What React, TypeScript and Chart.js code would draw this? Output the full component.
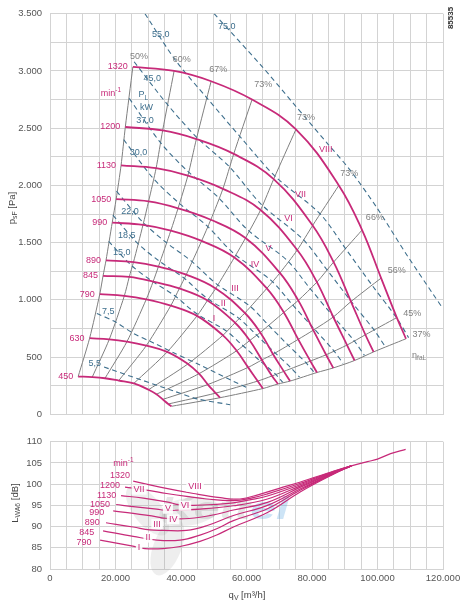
import React, { useEffect, useRef } from 'react';
import { Chart, registerables } from 'chart.js';

Chart.register(...registerables);

const FONT = '"Liberation Sans", Arial, Helvetica, sans-serif';
const MAGENTA = '#c72a79';
const GRAY_LINE = '#7f7f7f';
const DASH_BLUE = '#3e6f8d';
const GRID = '#d3d3d3';
const TICK = '#555555';
const EFF_TEXT = '#808080';

// ---------- Top chart: fan curves, q_V [m³/h] vs p_sF [Pa] ----------
const SPEEDS = [1320, 1200, 1130, 1050, 990, 890, 845, 790, 630, 450];
const Q_1320 = [25300, 37900, 49200, 61700, 75100, 88200, 95300, 101100, 105900, 108700];
const P_1320 = [3035, 3000, 2910, 2750, 2490, 2000, 1610, 1190, 845, 660];
const Q_1200 = [23000, 34400, 44700, 56100, 68300, 80200, 86600, 91900, 96300, 98800];
const P_1200 = [2510, 2480, 2405, 2275, 2055, 1650, 1330, 985, 695, 545];
const Q_1130 = [21700, 32400, 42100, 52800, 64300, 75500, 81500, 86500, 90700, 93000];
const P_1130 = [2175, 2150, 2085, 1970, 1785, 1435, 1155, 850, 605, 470];
const Q_1050 = [20200, 30100, 39100, 49100, 59700, 70200, 75800, 80400, 84300, 86500];
const P_1050 = [1880, 1860, 1800, 1700, 1540, 1235, 995, 735, 520, 405];
const Q_990 = [19000, 28400, 36900, 46300, 56300, 66200, 71400, 75800, 79500, 81500];
const P_990 = [1675, 1655, 1605, 1515, 1370, 1100, 890, 655, 465, 365];
const Q_890 = [17100, 25500, 33100, 41600, 50600, 59500, 64200, 68100, 71400, 73300];
const P_890 = [1345, 1330, 1290, 1220, 1100, 885, 715, 525, 375, 290];
const Q_845 = [16200, 24200, 31500, 39500, 48100, 56500, 61000, 64700, 67800, 69600];
const P_845 = [1210, 1200, 1160, 1100, 995, 800, 645, 475, 335, 265];
const Q_790 = [15200, 22700, 29400, 36900, 44900, 52800, 57000, 60500, 63400, 65000];
const P_790 = [1050, 1035, 1005, 950, 860, 690, 555, 410, 290, 225];
const Q_630 = [12100, 18100, 23500, 29400, 35800, 42100, 45500, 48200, 50600, 51900];
const P_630 = [665, 655, 635, 600, 545, 440, 355, 260, 185, 145];
const Q_450 = [8600, 12900, 16800, 21000, 25600, 30100, 32500, 34400, 36100, 37100];
const P_450 = [330, 325, 315, 295, 270, 215, 175, 130, 90, 70];

const EFFICIENCIES = ['50%', '60%', '67%', '73%', '73%', '73%', '66%', '56%', '45%', '37%'];

// Shaft power lines P_L [kW]: [q, p] pairs
const PL_75 = [[50100, 3500], [64700, 3040], [74500, 2710], [84600, 2370], [91600, 2135], [99800, 1805], [109000, 1390], [117200, 1040], [119700, 935]];
const PL_55 = [[29000, 3500], [38400, 3090], [47900, 2765], [58500, 2410], [68900, 2075], [82500, 1750], [90300, 1445], [98400, 1125], [105900, 840], [109500, 670]];
const PL_45 = [[25700, 3080], [35900, 2705], [44800, 2420], [54700, 2165], [64500, 1835], [77200, 1530], [84500, 1265], [92000, 985], [99000, 735], [102500, 585]];
const PL_37 = [[24200, 2760], [33700, 2375], [42000, 2125], [51200, 1900], [60400, 1610], [72400, 1345], [79100, 1110], [86200, 865], [92800, 645], [96000, 515]];
const PL_30 = [[22500, 2400], [31400, 2065], [39200, 1850], [47800, 1650], [56300, 1400], [67500, 1170], [73800, 965], [80400, 755], [86500, 560], [89500, 445]];
const PL_22 = [[20300, 1950], [28300, 1680], [35300, 1505], [43100, 1340], [50800, 1140], [60800, 950], [66500, 785], [72500, 610], [78000, 455], [80700, 365]];
const PL_18_5 = [[19200, 1740], [26700, 1495], [33300, 1340], [40700, 1195], [47900, 1015], [57400, 845], [62800, 700], [68400, 545], [73600, 405], [76200, 325]];
const PL_15 = [[17900, 1510], [24900, 1300], [31100, 1165], [37900, 1040], [44700, 880], [53500, 735], [58500, 610], [63800, 475], [68700, 355], [71100, 280]];
const PL_7_5 = [[14300, 880], [19800, 810], [25300, 710], [31500, 625], [37600, 540], [45800, 430], [55900, 290], [60500, 228]];
const PL_5_5 = [[16500, 413], [27500, 304], [37600, 205], [44900, 135], [55000, 84]];

const POWER_LABELS: [string, number, number][] = [
  ['75,0', 54000, 3390], ['55,0', 33800, 3320], ['45,0', 31200, 2930], ['37,0', 29000, 2565],
  ['30,0', 27000, 2290], ['22,0', 24400, 1770], ['18,5', 23400, 1565], ['15,0', 21900, 1410],
  ['7,5', 17800, 895], ['5,5', 13700, 440],
];
const EFF_LABELS: [string, number, number][] = [
  ['50%', 27200, 3130], ['60%', 40200, 3100], ['67%', 51400, 3010], ['73%', 65100, 2880],
  ['73%', 78200, 2590], ['73%', 91400, 2100], ['66%', 99200, 1720], ['56%', 105900, 1260],
  ['45%', 110600, 880], ['37%', 113400, 700],
];
const TOP_ROMAN: [string, number, number][] = [
  ['VIII', 84200, 2315], ['VII', 76500, 1920], ['VI', 72800, 1710], ['V', 66700, 1450],
  ['IV', 62600, 1310], ['III', 56500, 1100], ['II', 52900, 965], ['I', 50100, 835],
];

// ---------- Bottom chart: sound power L_WA6 [dB] vs q_V ----------
const LW_VIII = [[25400, 100.7], [33600, 99.3], [43800, 97.8], [52000, 96.8], [58000, 96.5], [64000, 97.6], [70000, 99.0], [76500, 100.5], [86700, 103.1], [92000, 104.3], [96900, 105.3], [100000, 105.9], [104000, 107.2], [108600, 108.2]];
const LW_VII = [[22900, 99.3], [29500, 98.6], [35600, 97.8], [41700, 97.1], [47800, 96.5], [56000, 96.1], [62000, 96.8], [66400, 97.7], [76500, 100.2], [86700, 103.0], [92000, 104.3]];
const LW_VI = [[21700, 97.3], [28500, 96.7], [35600, 95.8], [39700, 95.1], [43800, 95.0], [49900, 95.2], [56000, 95.6], [61000, 96.3], [66400, 97.2], [76500, 99.9], [86700, 102.9], [92000, 104.3]];
const LW_V = [[20200, 95.2], [25400, 94.7], [32600, 94.1], [35600, 93.8], [39700, 93.9], [45800, 94.1], [56000, 94.9], [66400, 96.5], [76500, 99.6], [86700, 102.8], [92000, 104.3]];
const LW_IV = [[19300, 93.7], [25400, 93.1], [32600, 92.3], [34600, 92.0], [39700, 91.8], [45800, 92.2], [50900, 92.9], [56000, 93.9], [66400, 95.7], [76500, 99.3], [86700, 102.7], [92000, 104.3]];
const LW_III = [[17100, 90.9], [25400, 89.9], [30500, 89.2], [34600, 89.1], [41700, 89.1], [47800, 90.2], [56000, 92.6], [66400, 95.0], [76500, 98.9], [86700, 102.6], [92000, 104.3]];
const LW_II = [[16200, 89.0], [25400, 87.7], [32600, 86.8], [39700, 86.8], [45800, 88.0], [50900, 89.5], [56000, 91.4], [66400, 94.2], [76500, 98.6], [86700, 102.5], [92000, 104.3]];
const LW_I = [[15300, 86.8], [25300, 85.4], [29000, 84.8], [34500, 84.8], [39700, 85.3], [45800, 86.5], [50900, 88.0], [56000, 89.9], [66400, 93.3], [76500, 98.2], [86700, 102.4], [92000, 104.3]];

const BOTTOM_RPM: [string, number, number][] = [
  ['1320', 21400, 102.1], ['1200', 18300, 99.7], ['1130', 17300, 97.3], ['1050', 15300, 95.3],
  ['990', 14300, 93.3], ['890', 12900, 90.9], ['845', 11200, 88.6], ['790', 10400, 86.3],
];
const BOTTOM_ROMAN: [string, number, number][] = [
  ['VIII', 44300, 99.4], ['VII', 27200, 98.7], ['VI', 41200, 94.9], ['V', 36000, 94.2],
  ['IV', 37600, 91.7], ['III', 32700, 90.6], ['II', 29900, 87.4], ['I', 27200, 85.0],
];

const fmt = (v: number) => Math.round(v).toString().replace(/\B(?=(\d{3})+(?!\d))/g, '.');

type Part = { t: string; sub?: boolean; sup?: boolean };

function drawRich(ctx: CanvasRenderingContext2D, parts: Part[], x: number, y: number, size: number, color: string, align: 'left' | 'center' | 'right', weight = '') {
  const fontFor = (p: Part) => `${weight} ${p.sub || p.sup ? size * 0.72 : size}px ${FONT}`;
  const widths = parts.map((p) => { ctx.font = fontFor(p); return ctx.measureText(p.t).width; });
  const total = widths.reduce((a, b) => a + b, 0);
  let cx = align === 'left' ? x : align === 'center' ? x - total / 2 : x - total;
  ctx.fillStyle = color;
  ctx.textBaseline = 'middle';
  ctx.textAlign = 'left';
  parts.forEach((p, i) => {
    ctx.font = fontFor(p);
    const dy = p.sub ? size * 0.32 : p.sup ? -size * 0.35 : 0;
    ctx.fillText(p.t, cx, y + dy);
    cx += widths[i];
  });
  return total;
}

const speedCurves = [
  { n: SPEEDS[0], q: Q_1320, p: P_1320 },
  { n: SPEEDS[1], q: Q_1200, p: P_1200 },
  { n: SPEEDS[2], q: Q_1130, p: P_1130 },
  { n: SPEEDS[3], q: Q_1050, p: P_1050 },
  { n: SPEEDS[4], q: Q_990, p: P_990 },
  { n: SPEEDS[5], q: Q_890, p: P_890 },
  { n: SPEEDS[6], q: Q_845, p: P_845 },
  { n: SPEEDS[7], q: Q_790, p: P_790 },
  { n: SPEEDS[8], q: Q_630, p: P_630 },
  { n: SPEEDS[9], q: Q_450, p: P_450 },
];
const powerLines = [PL_75, PL_55, PL_45, PL_37, PL_30, PL_22, PL_18_5, PL_15, PL_7_5, PL_5_5];
const soundCurves = [LW_VIII, LW_VII, LW_VI, LW_V, LW_IV, LW_III, LW_II, LW_I];

const TOP_H = 428;
const BOT_H = 184;

export default function App() {
  const topRef = useRef<HTMLCanvasElement | null>(null);
  const botRef = useRef<HTMLCanvasElement | null>(null);

  useEffect(() => {
    const pairs = (arr: number[][]) => arr.map(([x, y]) => ({ x, y }));

    const topDatasets: any[] = [];
    speedCurves.forEach((c) => {
      topDatasets.push({
        data: c.q.map((x, i) => ({ x, y: c.p[i] })),
        borderColor: MAGENTA, borderWidth: 1.8, pointRadius: 0, showLine: true, tension: 0.4, fill: false,
      });
    });
    powerLines.forEach((pl) => {
      topDatasets.push({
        data: pairs(pl), borderColor: DASH_BLUE, borderWidth: 1.1, borderDash: [5, 3.5],
        pointRadius: 0, showLine: true, tension: 0.3, fill: false,
      });
    });
    EFFICIENCIES.forEach((_, i) => {
      topDatasets.push({
        data: speedCurves.map((c) => ({ x: c.q[i], y: c.p[i] })),
        borderColor: GRAY_LINE, borderWidth: 1, pointRadius: 0, showLine: true, tension: 0.25, fill: false,
      });
    });

    const topPlugin = {
      id: 'topLabels',
      afterDraw(chart: any) {
        const { ctx, scales } = chart;
        const X = (v: number) => scales.x.getPixelForValue(v);
        const Y = (v: number) => scales.y.getPixelForValue(v);
        ctx.save();
        speedCurves.forEach((c) => drawRich(ctx, [{ t: String(c.n) }], X(c.q[0]) - 5, Y(c.p[0]), 9, MAGENTA, 'right'));
        drawRich(ctx, [{ t: 'min' }, { t: '-1', sup: true }], X(18600), Y(2800), 9, MAGENTA, 'center');
        EFF_LABELS.forEach(([t, q, p]) => drawRich(ctx, [{ t }], X(q), Y(p), 9, EFF_TEXT, 'center'));
        drawRich(ctx, [{ t: 'η' }, { t: 'faL', sub: true }], X(112700), Y(514), 9, EFF_TEXT, 'center');
        POWER_LABELS.forEach(([t, q, p]) => drawRich(ctx, [{ t }], X(q), Y(p), 9, DASH_BLUE, 'center'));
        drawRich(ctx, [{ t: 'P' }, { t: 'L', sub: true }], X(28500), Y(2790), 9, DASH_BLUE, 'center');
        drawRich(ctx, [{ t: 'kW' }], X(29500), Y(2680), 9, DASH_BLUE, 'center');
        TOP_ROMAN.forEach(([t, q, p]) => drawRich(ctx, [{ t }], X(q), Y(p), 9, MAGENTA, 'center'));
        // axis title
        ctx.save();
        ctx.translate(12, 208);
        ctx.rotate(-Math.PI / 2);
        drawRich(ctx, [{ t: 'p' }, { t: 'sF', sub: true }, { t: ' [Pa]' }], 0, 0, 9.5, '#444', 'center');
        ctx.restore();
        // drawing number
        ctx.save();
        ctx.translate(451, 18);
        ctx.rotate(-Math.PI / 2);
        drawRich(ctx, [{ t: '85535' }], 0, 0, 8, '#333', 'center', 'bold');
        ctx.restore();
        ctx.restore();
      },
    };

    const axisCommon = (min: number, max: number, step: number) => ({
      type: 'linear', min, max,
      grid: { color: GRID, lineWidth: 1, drawTicks: false },
      border: { color: GRID },
      ticks: { stepSize: step, autoSkip: false, maxTicksLimit: 200, color: TICK, font: { family: FONT, size: 9.5 } },
    });

    const top = new Chart(topRef.current as HTMLCanvasElement, {
      type: 'scatter',
      data: { datasets: topDatasets },
      options: {
        animation: false, responsive: false, maintainAspectRatio: false,
        layout: { padding: { left: 0, right: 25, top: 6, bottom: 0 } },
        plugins: { legend: { display: false }, tooltip: { enabled: false } },
        scales: {
          x: {
            ...axisCommon(0, 120000, 5000),
            ticks: { ...axisCommon(0, 120000, 5000).ticks, display: false },
            afterFit: (s: any) => { s.height = TOP_H - 421; },
          },
          y: {
            ...axisCommon(0, 3500, 250),
            ticks: { ...axisCommon(0, 3500, 250).ticks, padding: 8, callback: (v: any) => (Number(v) % 500 === 0 ? fmt(Number(v)) : '') },
            afterFit: (s: any) => { s.width = 50; },
          },
        },
      } as any,
      plugins: [topPlugin],
    });

    const botDatasets: any[] = soundCurves.map((c) => ({
      data: pairs(c), borderColor: MAGENTA, borderWidth: 1.2, pointRadius: 0, showLine: true, tension: 0.4, fill: false,
    }));

    const botPlugin = {
      id: 'botLabels',
      beforeDatasetsDraw(chart: any) {
        const { ctx } = chart;
        ctx.save();
        // faint watermark
        ctx.fillStyle = 'rgba(150,150,150,0.16)';
        const cx = 168, cy = 95;
        for (let k = 0; k < 3; k++) {
          ctx.save();
          ctx.translate(cx, cy);
          ctx.rotate(-0.5 + (k * 2 * Math.PI) / 3);
          ctx.beginPath();
          ctx.ellipse(24, 0, 30, 14, 0.35, 0, Math.PI * 2);
          ctx.fill();
          ctx.restore();
        }
        ctx.save();
        ctx.translate(160, 91);
        ctx.scale(1.45, 1);
        ctx.font = `italic bold 32px ${FONT}`;
        ctx.textBaseline = 'alphabetic';
        ctx.textAlign = 'left';
        ctx.fillStyle = 'rgba(130,130,130,0.20)';
        ctx.fillText('Kett', 0, 0);
        const w = ctx.measureText('Kett').width;
        ctx.fillStyle = 'rgba(90,165,225,0.30)';
        ctx.fillText('el', w, 0);
        ctx.restore();
        ctx.restore();
      },
      afterDraw(chart: any) {
        const { ctx, scales } = chart;
        const X = (v: number) => scales.x.getPixelForValue(v);
        const Y = (v: number) => scales.y.getPixelForValue(v);
        ctx.save();
        drawRich(ctx, [{ t: 'min' }, { t: '-1', sup: true }], X(22400), Y(104.8), 9, MAGENTA, 'center');
        BOTTOM_RPM.forEach(([t, q, v]) => drawRich(ctx, [{ t }], X(q), Y(v), 9, MAGENTA, 'center'));
        BOTTOM_ROMAN.forEach(([t, q, v]) => {
          ctx.font = `9px ${FONT}`;
          const w = ctx.measureText(t).width;
          ctx.fillStyle = 'rgba(255,255,255,0.9)';
          ctx.fillRect(X(q) - w / 2 - 2, Y(v) - 5, w + 4, 10);
          drawRich(ctx, [{ t }], X(q), Y(v), 9, MAGENTA, 'center');
        });
        ctx.save();
        ctx.translate(15, 75);
        ctx.rotate(-Math.PI / 2);
        drawRich(ctx, [{ t: 'L' }, { t: 'WA6', sub: true }, { t: ' [dB]' }], 0, 0, 9.5, '#444', 'center');
        ctx.restore();
        drawRich(ctx, [{ t: 'q' }, { t: 'V', sub: true }, { t: ' [m³/h]' }], 247, 167, 9.5, '#444', 'center');
        ctx.restore();
      },
    };

    const bottom = new Chart(botRef.current as HTMLCanvasElement, {
      type: 'scatter',
      data: { datasets: botDatasets },
      options: {
        animation: false, responsive: false, maintainAspectRatio: false,
        layout: { padding: { left: 0, right: 25, top: 8, bottom: 0 } },
        plugins: { legend: { display: false }, tooltip: { enabled: false } },
        scales: {
          x: {
            ...axisCommon(0, 120000, 5000),
            ticks: { ...axisCommon(0, 120000, 5000).ticks, padding: 4, maxRotation: 0, callback: (v: any) => (Number(v) % 20000 === 0 ? fmt(Number(v)) : '') },
            afterFit: (s: any) => { s.height = BOT_H - 141; },
          },
          y: {
            ...axisCommon(80, 110, 5),
            ticks: { ...axisCommon(80, 110, 5).ticks, padding: 8 },
            afterFit: (s: any) => { s.width = 50; },
          },
        },
      } as any,
      plugins: [botPlugin],
    });

    return () => { top.destroy(); bottom.destroy(); };
  }, []);

  return (
    <div style={{ position: 'absolute', left: 0, top: 0, width: 468, height: 612, background: '#ffffff' }}>
      <canvas ref={topRef} width={468} height={TOP_H} style={{ position: 'absolute', left: 0, top: 0, width: 468, height: TOP_H }} />
      <canvas ref={botRef} width={468} height={BOT_H} style={{ position: 'absolute', left: 0, top: TOP_H, width: 468, height: BOT_H }} />
    </div>
  );
}
